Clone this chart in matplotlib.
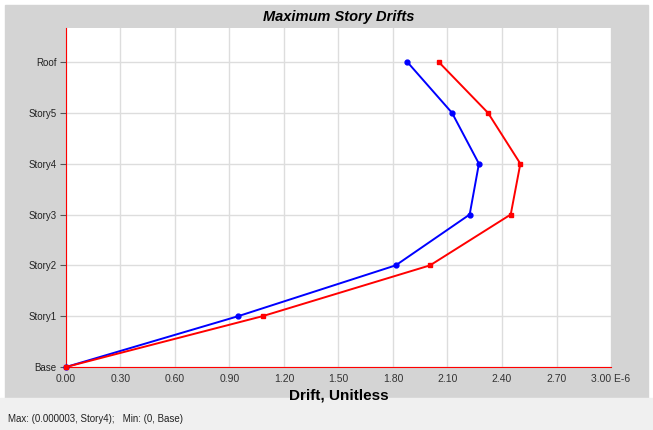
import matplotlib.pyplot as plt
from matplotlib.patches import Rectangle

plt.rcParams["font.family"] = ["Liberation Sans", "DejaVu Sans"]

stories = ["Base", "Story1", "Story2", "Story3", "Story4", "Story5", "Roof"]
drift_x = [0.0, 0.948, 1.815, 2.222, 2.273, 2.125, 1.879]  # E-6
drift_y = [0.0, 1.082, 2.004, 2.448, 2.501, 2.323, 2.052]  # E-6
xticks = [0.0, 0.3, 0.6, 0.9, 1.2, 1.5, 1.8, 2.1, 2.4, 2.7, 3.0]

fig = plt.figure(figsize=(6.53, 4.30), dpi=100)
fig.patch.set_facecolor("white")

# panel backgrounds, behind the axes
fig.patches.append(Rectangle((5 / 653, 32 / 430), 643 / 653, 393 / 430,
                             transform=fig.transFigure, color="#d4d4d4", zorder=-10))
fig.patches.append(Rectangle((0, 0), 1, 32 / 430,
                             transform=fig.transFigure, color="#f0f0f0", zorder=-10))

ax = fig.add_axes([66 / 653, 63 / 430, 545 / 653, 339 / 430])
ax.set_facecolor("white")

levels = list(range(len(stories)))
ax.plot(drift_x, levels, color="#0000ff", lw=1.4, marker="o", ms=3.5, zorder=3, clip_on=False)
ax.plot(drift_y, levels, color="#ff0000", lw=1.4, marker="s", ms=3.5, zorder=3, clip_on=False)

ax.set_xlim(0, 3.0)
ax.set_ylim(0, 6.67)
ax.set_xticks(xticks)
ax.set_xticklabels(["%.2f" % v for v in xticks[:-1]] + ["3.00 E-6"], fontsize=7.5, color="#333333")
ax.set_yticks(levels)
ax.set_yticklabels(stories, fontsize=7, color="#222222")
ax.tick_params(axis="x", length=0, pad=5)
ax.tick_params(axis="y", length=4, color="#555555", pad=3)
ax.grid(True, color="#dddddd", lw=1)
ax.set_axisbelow(True)

for s in ["top", "right"]:
    ax.spines[s].set_visible(False)
ax.spines["left"].set_color("red")
ax.spines["bottom"].set_color("red")

ax.set_title("Maximum Story Drifts", fontsize=10.5, fontweight="bold", style="italic", pad=5)
ax.set_xlabel("Drift, Unitless", fontsize=11, fontweight="bold", labelpad=3)

fig.text(8 / 653, 8 / 430, "Max: (0.000003, Story4);   Min: (0, Base)", fontsize=7, color="#222222")

fig.savefig("out.png", dpi=100)
